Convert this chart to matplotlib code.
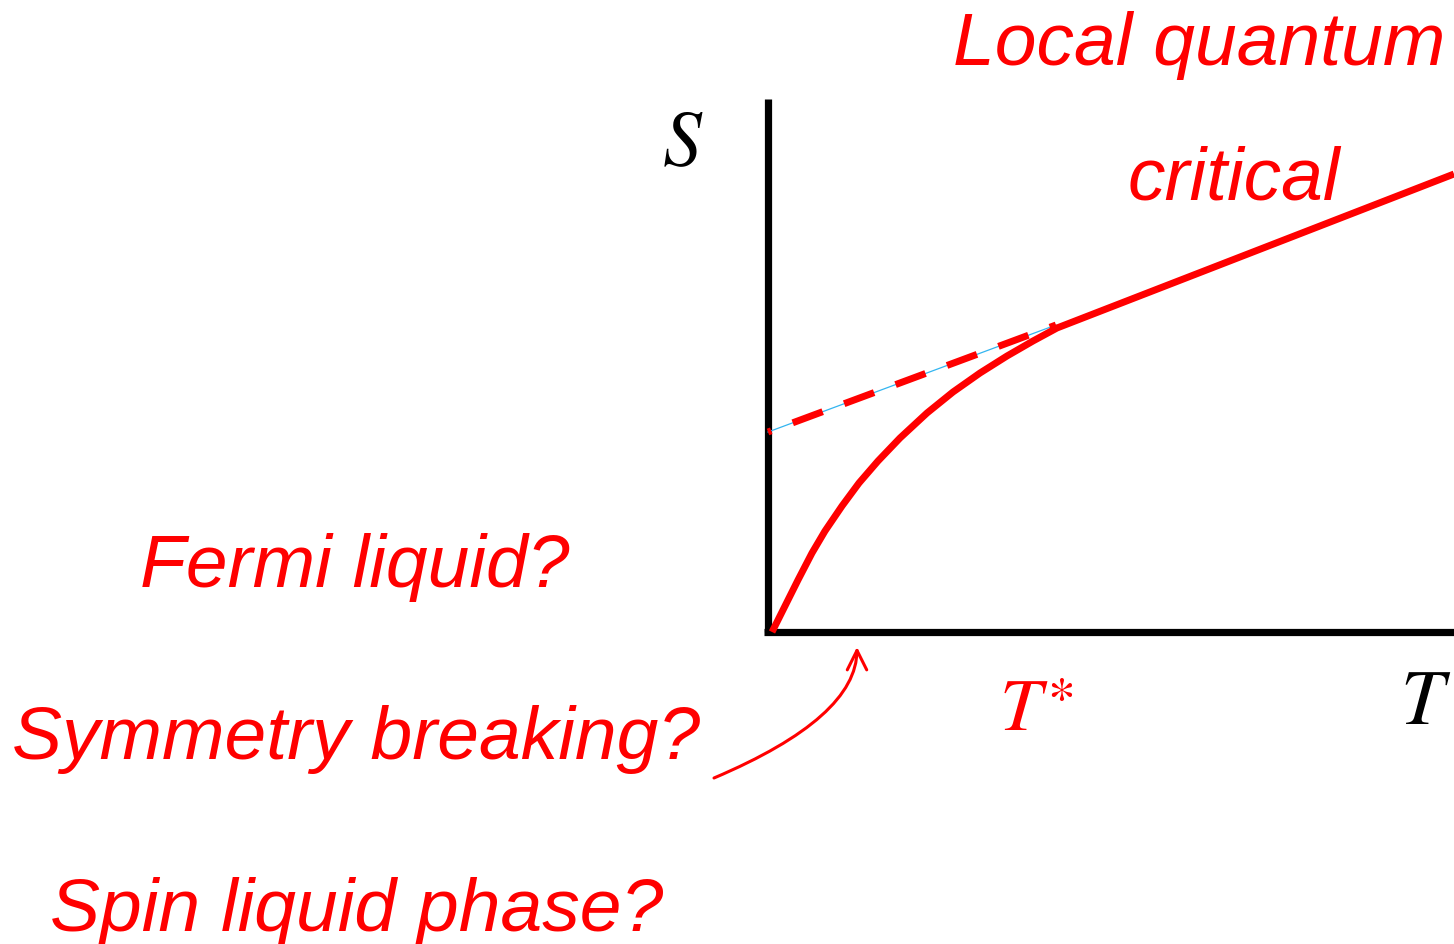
import matplotlib.pyplot as plt
from matplotlib.patches import FancyArrowPatch
import numpy as np

plt.rcParams['mathtext.fontset'] = 'stix'

# entropy curve S(T), schematic units
T_curve = [0.04, 0.17, 0.30, 0.44, 0.57, 0.74, 0.91, 1.10, 1.32, 1.59, 1.85,
           2.12, 2.39, 2.65, 2.89, 6.86]
S_curve = [0.00, 0.26, 0.52, 0.79, 1.01, 1.26, 1.49, 1.71, 1.94, 2.19, 2.40,
           2.59, 2.76, 2.91, 3.04, 4.58]

# linear extrapolation of the high-T part back to T = 0
T_extrap = [0.0, 2.88]
S_extrap = [2.00, 3.07]

T_axis_end = 6.86
S_axis_end = 5.33

labels_left = ['Fermi liquid?', 'Symmetry breaking?', 'Spin liquid phase?']
labels_left_x = [1.40, 0.12, 0.50]
labels_left_y = [0.46, -1.26, -2.98]

red = '#ff0000'

fig = plt.figure(figsize=(14.54, 9.45), dpi=100)
ax = fig.add_axes([0, 0, 1, 1])
ax.set_xlim(-7.68, 6.86)
ax.set_ylim(-3.12, 6.33)
ax.axis('off')

# axes of the sketch
ax.plot([0, 0], [0, S_axis_end], color='black', linewidth=5.2, solid_capstyle='butt')
ax.plot([-0.04, T_axis_end], [0, 0], color='black', linewidth=5.2, solid_capstyle='butt')

ax.plot(T_extrap, S_extrap, color='#33b5f0', linewidth=0.9, zorder=2)
ax.plot(T_extrap, S_extrap, color=red, linewidth=5.0, zorder=3,
        linestyle=(4.1, (4.6, 3.3)), dash_capstyle='butt')
ax.plot(T_curve, S_curve, color=red, linewidth=5.0, zorder=4,
        solid_joinstyle='round', solid_capstyle='butt')

ax.text(-0.85, 4.68, r'$S$', fontsize=56, color='black', ha='center', va='baseline')
ax.text(6.58, -0.91, r'$T$', fontsize=56, color='black', ha='center', va='baseline')
ax.text(2.56, -0.97, r'$T$', fontsize=54, color=red, ha='center', va='baseline')
ax.text(2.93, -0.84, '*', fontsize=40, color=red, family='STIXGeneral',
        ha='center', va='baseline')

ax.text(1.85, 5.68, 'Local quantum', fontsize=54, color=red, style='italic',
        family='Liberation Sans', ha='left', va='baseline')
ax.text(3.60, 4.33, 'critical', fontsize=54, color=red, style='italic',
        family='Liberation Sans', ha='left', va='baseline')

for txt, x, y in zip(labels_left, labels_left_x, labels_left_y):
    ax.text(x - 7.68, y, txt, fontsize=54, color=red, style='italic',
            family='Liberation Sans', ha='left', va='baseline')

arrow = FancyArrowPatch((-0.54, -1.46), (0.89, -0.15),
                        connectionstyle='angle3,angleA=23,angleB=90',
                        arrowstyle='->,head_length=0.7,head_width=0.35',
                        mutation_scale=20, color=red, linewidth=2.2,
                        shrinkA=0, shrinkB=0)
ax.add_patch(arrow)

fig.savefig('out.png', dpi=100, facecolor='white')
